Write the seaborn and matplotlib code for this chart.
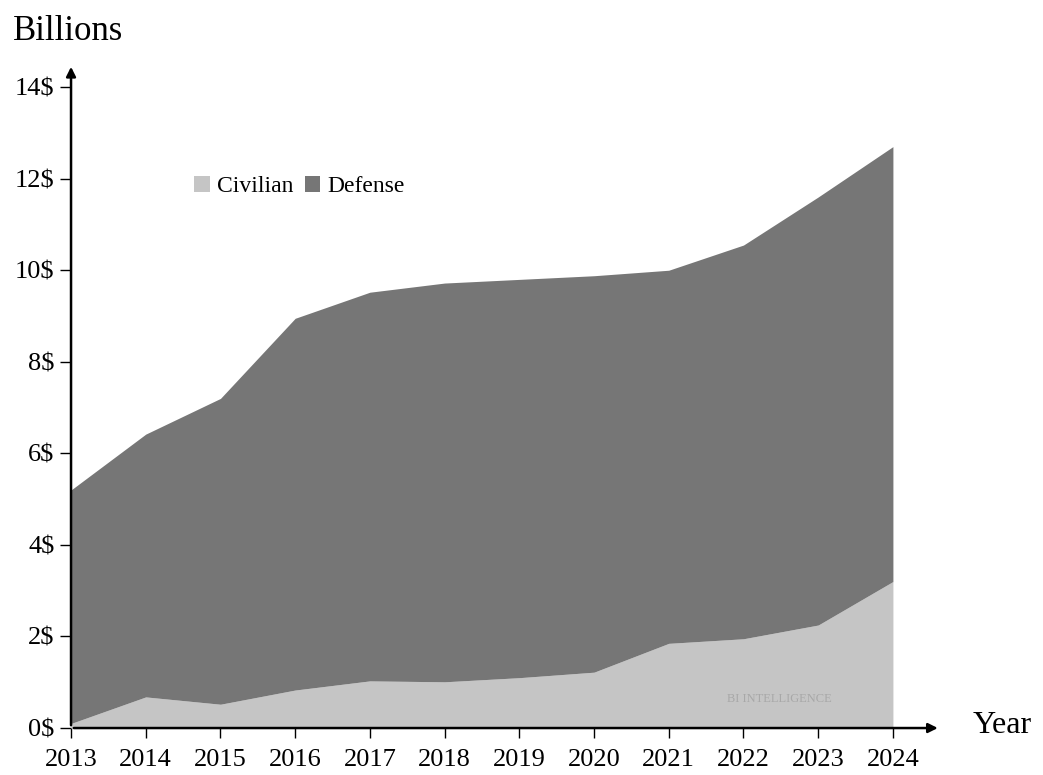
import matplotlib
matplotlib.use('Agg')
import matplotlib.pyplot as plt
import seaborn as sns

# values (billions $)
years = [2013, 2014, 2015, 2016, 2017, 2018, 2019, 2020, 2021, 2022, 2023, 2024]
civilian = [0.1, 0.68, 0.52, 0.83, 1.03, 1.01, 1.1, 1.22, 1.85, 1.95, 2.25, 3.2]
total = [5.2, 6.42, 7.2, 8.95, 9.52, 9.72, 9.8, 9.88, 10.0, 10.55, 11.6, 12.7]
defense = [t - c for t, c in zip(total, civilian)]
series_names = ['Civilian', 'Defense']
y_ticks = [0, 2, 4, 6, 8, 10, 12, 14]

sns.set_theme(style='white')
plt.rcParams['font.family'] = ['Liberation Serif', 'DejaVu Serif']
plt.rcParams['text.color'] = 'black'
plt.rcParams['xtick.color'] = 'black'
plt.rcParams['ytick.color'] = 'black'

colors = ['#c5c5c5', '#767676']

fig = plt.figure(figsize=(10.43, 7.75), dpi=100)
ax = fig.add_axes([0.0681, 0.0606, 0.788, 0.827])

ax.stackplot(years, civilian, defense, colors=colors, labels=series_names, linewidth=0)

ax.set_xlim(2013, 2024)
ax.set_ylim(0, 14)
ax.set_xticks(years)
ax.set_xticklabels([str(y) for y in years], fontsize=19)
ax.set_yticks(y_ticks)
ax.set_yticklabels([f'{v}$' for v in y_ticks], fontsize=19)
ax.tick_params(axis='x', direction='out', length=7, width=1, pad=8)
ax.tick_params(axis='y', direction='out', length=8, width=1, pad=4)
ax.tick_params(bottom=True, left=True)

for s in ax.spines.values():
    s.set_visible(False)

# axis arrows
ax.annotate('', xy=(1.058, 0), xytext=(0, 0), xycoords='axes fraction',
            arrowprops=dict(arrowstyle='-|>', color='black', lw=1.8, mutation_scale=14),
            annotation_clip=False)
ax.annotate('', xy=(0, 1.036), xytext=(0, 0), xycoords='axes fraction',
            arrowprops=dict(arrowstyle='-|>', color='black', lw=1.8, mutation_scale=14),
            annotation_clip=False)

fig.text(0.012, 0.96, 'Billions', fontsize=25, ha='left', va='center')
fig.text(0.933, 0.064, 'Year', fontsize=23, ha='left', va='center')

ax.text(0.925, 0.045, 'BI INTELLIGENCE', transform=ax.transAxes, fontsize=9,
        color='#a8a8a8', ha='right', va='center')

leg = ax.legend(loc='center left', bbox_to_anchor=(0.124, 0.845), ncol=2, frameon=False,
                fontsize=17, handlelength=0.65, handleheight=0.65, handletextpad=0.3,
                columnspacing=0.5)

fig.savefig('out.png', dpi=100)
